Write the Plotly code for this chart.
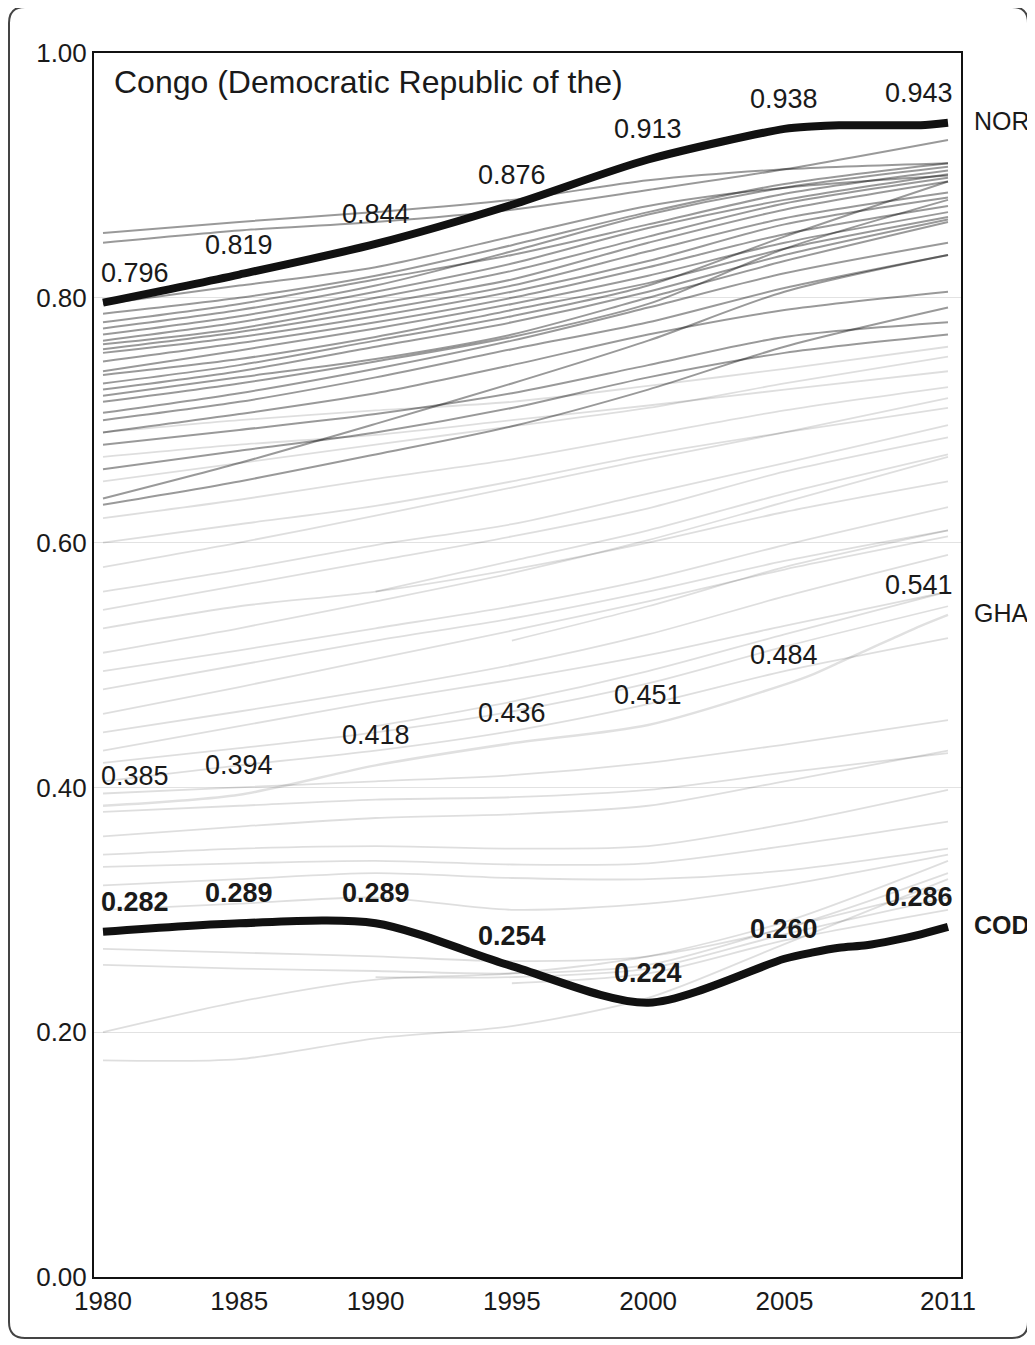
import plotly.graph_objects as go

# ---------------- data ----------------
years = [1980, 1985, 1990, 1995, 2000, 2005, 2011]

# highlighted countries: labelled values
nor_labels = [0.796, 0.819, 0.844, 0.876, 0.913, 0.938, 0.943]
gha_labels = [0.385, 0.394, 0.418, 0.436, 0.451, 0.484, 0.541]
cod_labels = [0.282, 0.289, 0.289, 0.254, 0.224, 0.260, 0.286]

# highlighted lines (with yearly points after 2005)
line_years = [1980, 1985, 1990, 1995, 2000, 2005, 2006, 2007, 2008, 2009, 2010, 2011]
nor_line = [0.796, 0.819, 0.844, 0.876, 0.913, 0.938, 0.940, 0.941, 0.941, 0.941, 0.941, 0.943]
cod_line = [0.282, 0.289, 0.289, 0.254, 0.224, 0.260, 0.265, 0.269, 0.271, 0.275, 0.280, 0.286]
gha_line = [0.385, 0.394, 0.418, 0.436, 0.451, 0.484, 0.492, 0.502, 0.512, 0.522, 0.532, 0.541]

# other countries, darker band (values at `years`)
dark_lines = [
    [0.853, 0.862, 0.870, 0.880, 0.896, 0.905, 0.910],
    [0.845, 0.855, 0.862, 0.872, 0.888, 0.905, 0.929],
    [0.795, 0.810, 0.825, 0.850, 0.875, 0.890, 0.900],
    [0.787, 0.800, 0.818, 0.843, 0.870, 0.893, 0.910],
    [0.780, 0.795, 0.815, 0.835, 0.860, 0.885, 0.904],
    [0.775, 0.790, 0.810, 0.838, 0.868, 0.890, 0.907],
    [0.770, 0.785, 0.805, 0.828, 0.857, 0.880, 0.901],
    [0.765, 0.780, 0.800, 0.822, 0.850, 0.877, 0.898],
    [0.762, 0.775, 0.795, 0.815, 0.845, 0.872, 0.895],
    [0.758, 0.772, 0.790, 0.810, 0.838, 0.865, 0.886],
    [0.755, 0.768, 0.785, 0.805, 0.830, 0.860, 0.882],
    [0.748, 0.763, 0.780, 0.800, 0.825, 0.852, 0.875],
    [0.740, 0.757, 0.775, 0.795, 0.818, 0.845, 0.870],
    [0.737, 0.750, 0.768, 0.790, 0.812, 0.840, 0.866],
    [0.730, 0.745, 0.765, 0.785, 0.810, 0.850, 0.895],
    [0.725, 0.740, 0.760, 0.780, 0.805, 0.835, 0.864],
    [0.720, 0.735, 0.750, 0.770, 0.800, 0.830, 0.862],
    [0.715, 0.730, 0.748, 0.768, 0.795, 0.840, 0.880],
    [0.706, 0.722, 0.742, 0.765, 0.792, 0.820, 0.845],
    [0.700, 0.715, 0.735, 0.758, 0.780, 0.808, 0.835],
    [0.690, 0.705, 0.722, 0.745, 0.770, 0.790, 0.805],
    [0.680, 0.692, 0.705, 0.722, 0.745, 0.768, 0.780],
    [0.660, 0.675, 0.690, 0.710, 0.735, 0.755, 0.770],
    [0.636, 0.665, 0.697, 0.730, 0.765, 0.805, 0.835],
    [0.631, 0.650, 0.672, 0.695, 0.725, 0.760, 0.792],
]

# other countries, fainter lines
faint_lines = [
    [0.690, 0.700, 0.708, 0.715, 0.728, 0.742, 0.760],
    [0.670, 0.680, 0.688, 0.700, 0.712, 0.725, 0.740],
    [0.650, 0.665, 0.680, 0.695, 0.710, 0.730, 0.752],
    [0.620, 0.635, 0.652, 0.668, 0.688, 0.708, 0.727],
    [0.600, 0.615, 0.630, 0.650, 0.672, 0.690, 0.710],
    [0.580, 0.600, 0.622, 0.645, 0.668, 0.690, 0.718],
    [0.560, 0.578, 0.598, 0.615, 0.640, 0.665, 0.696],
    [0.545, 0.565, 0.585, 0.605, 0.628, 0.658, 0.686],
    [0.530, 0.548, 0.560, 0.578, 0.600, 0.625, 0.650],
    [0.510, 0.530, 0.552, 0.575, 0.602, 0.633, 0.670],
    [0.495, 0.512, 0.530, 0.548, 0.570, 0.598, 0.629],
    [0.480, 0.500, 0.520, 0.538, 0.560, 0.585, 0.610],
    [0.460, 0.482, 0.505, 0.528, 0.552, 0.578, 0.605],
    [0.445, 0.462, 0.480, 0.500, 0.525, 0.556, 0.590],
    [0.430, 0.450, 0.470, 0.488, 0.508, 0.532, 0.560],
    [0.420, 0.432, 0.445, 0.462, 0.485, 0.515, 0.548],
    [0.405, 0.418, 0.430, 0.446, 0.468, 0.495, 0.522],
    [None, None, 0.560, 0.585, 0.610, 0.640, 0.672],
    [None, None, None, 0.520, 0.548, 0.580, 0.610],
    [None, None, 0.450, 0.470, 0.495, 0.525, 0.560],
    [0.395, 0.400, 0.405, 0.410, 0.420, 0.435, 0.455],
    [0.380, 0.385, 0.390, 0.392, 0.398, 0.412, 0.428],
    [0.360, 0.368, 0.375, 0.378, 0.385, 0.405, 0.430],
    [0.345, 0.350, 0.352, 0.350, 0.352, 0.370, 0.398],
    [0.335, 0.338, 0.340, 0.337, 0.338, 0.352, 0.372],
    [0.320, 0.325, 0.330, 0.326, 0.325, 0.332, 0.350],
    [0.300, 0.305, 0.310, 0.300, 0.305, 0.320, 0.345],
    [0.268, 0.265, 0.262, 0.258, 0.262, 0.285, 0.330],
    [0.255, 0.252, 0.250, 0.248, 0.255, 0.285, 0.318],
    [0.200, 0.225, 0.243, 0.248, 0.262, 0.290, 0.340],
    [0.177, 0.178, 0.195, 0.205, 0.228, 0.272, 0.325],
    [None, None, 0.245, 0.245, 0.252, 0.280, 0.310],
    [None, None, None, 0.240, 0.248, 0.275, 0.300],
]

title_text = "Congo (Democratic Republic of the)"
code_nor, code_gha, code_cod = "NOR", "GHA", "COD"
x_ticks = [1980, 1985, 1990, 1995, 2000, 2005, 2011]
y_ticks = [0.0, 0.2, 0.4, 0.6, 0.8, 1.0]

# ---------------- layout geometry ----------------
# the page body has an 8px margin, so the figure starts at (8, 8) in the window
OFF = 8
W, H = 1035 - OFF, 1345 - OFF
L, R, T, B = 94 - OFF, 961 - OFF, 53 - OFF, 1277 - OFF  # plot area edges (figure px)
FONT = "Liberation Sans, Arial, Helvetica, sans-serif"


def px(xp):  # window pixel -> paper x
    return (xp - OFF - L) / (R - L)


def py(yp):  # window pixel -> paper y
    return (B - (yp - OFF)) / (B - T)


fig = go.Figure()

for vals in faint_lines:
    fig.add_trace(go.Scatter(x=years, y=vals, mode="lines",
                             line=dict(color="rgba(0,0,0,0.13)", width=1.8, shape="spline", smoothing=0.8),
                             hoverinfo="skip", showlegend=False))
for vals in dark_lines:
    fig.add_trace(go.Scatter(x=years, y=vals, mode="lines",
                             line=dict(color="rgba(0,0,0,0.40)", width=2, shape="spline", smoothing=0.8),
                             hoverinfo="skip", showlegend=False))

fig.add_trace(go.Scatter(x=line_years, y=gha_line, mode="lines",
                         line=dict(color="rgba(0,0,0,0.12)", width=2.5, shape="spline", smoothing=0.8),
                         hoverinfo="skip", showlegend=False))
for vals in (nor_line, cod_line):
    fig.add_trace(go.Scatter(x=line_years, y=vals, mode="lines",
                             line=dict(color="#111111", width=8, shape="spline", smoothing=0.8),
                             hoverinfo="skip", showlegend=False))

annotations = []


def value_labels(vals, bold):
    n = len(years)
    for i, (yr, v) in enumerate(zip(years, vals)):
        txt = f"{v:.3f}"
        if bold:
            txt = f"<b>{txt}</b>"
        if i == 0:
            xa, xs = "left", -4
        elif i == n - 1:
            xa, xs = "right", 7
        else:
            xa, xs = "center", 0
        annotations.append(dict(x=yr, y=v, xref="x", yref="y", text=txt, showarrow=False,
                                xanchor=xa, yanchor="middle", xshift=xs, yshift=30,
                                font=dict(family=FONT, size=27, color="#1a1a1a")))


value_labels(nor_labels, False)
value_labels(gha_labels, False)
value_labels(cod_labels, True)

for code, vals, bold in ((code_nor, nor_labels, False), (code_gha, gha_labels, False), (code_cod, cod_labels, True)):
    annotations.append(dict(x=px(972), y=vals[-1], xref="paper", yref="y",
                            text=f"<b>{code}</b>" if bold else code, showarrow=False,
                            xanchor="left", yanchor="middle", yshift=2,
                            font=dict(family=FONT, size=25, color="#1a1a1a")))

annotations.append(dict(x=px(112), y=py(82), xref="paper", yref="paper", text=title_text,
                        showarrow=False, xanchor="left", yanchor="middle",
                        font=dict(family=FONT, size=32, color="#1a1a1a")))

# rounded outer frame (window pixels)
x0, x1, y0, y1, r = 9, 1028, 7, 1338, 16
rx = r / (R - L)
ry = r / (B - T)
X0, X1, Y0, Y1 = px(x0), px(x1), py(y1), py(y0)
path = (f"M {X0 + rx},{Y1} L {X1 - rx},{Y1} Q {X1},{Y1} {X1},{Y1 - ry} "
        f"L {X1},{Y0 + ry} Q {X1},{Y0} {X1 - rx},{Y0} "
        f"L {X0 + rx},{Y0} Q {X0},{Y0} {X0},{Y0 + ry} "
        f"L {X0},{Y1 - ry} Q {X0},{Y1} {X0 + rx},{Y1} Z")
shapes = [dict(type="path", path=path, xref="paper", yref="paper",
               line=dict(color="#444444", width=2), layer="below")]

ppy = (948 - 103) / 31.0
xr = [1980 - 9 / ppy, 2011 + 13 / ppy]

fig.update_layout(
    width=W, height=H,
    margin=dict(l=L, r=W - R, t=T, b=H - B, pad=0),
    paper_bgcolor="white", plot_bgcolor="white",
    showlegend=False,
    annotations=annotations,
    shapes=shapes,
    xaxis=dict(range=xr, tickmode="array", tickvals=x_ticks, ticktext=[str(t) for t in x_ticks],
               showgrid=False, zeroline=False, showline=True, linecolor="#111111", linewidth=2,
               mirror=True, ticks="", ticklen=0, tickfont=dict(family=FONT, size=26, color="#1a1a1a")),
    yaxis=dict(range=[0, 1], tickmode="array", tickvals=y_ticks, ticktext=[f"{t:.2f}" for t in y_ticks],
               showgrid=True, gridcolor="#e2e2e2", gridwidth=1, zeroline=False, showline=True,
               linecolor="#111111", linewidth=2, mirror=True, ticks="", ticklen=0,
               tickfont=dict(family=FONT, size=26, color="#1a1a1a")),
)

fig.write_html("out.html")
